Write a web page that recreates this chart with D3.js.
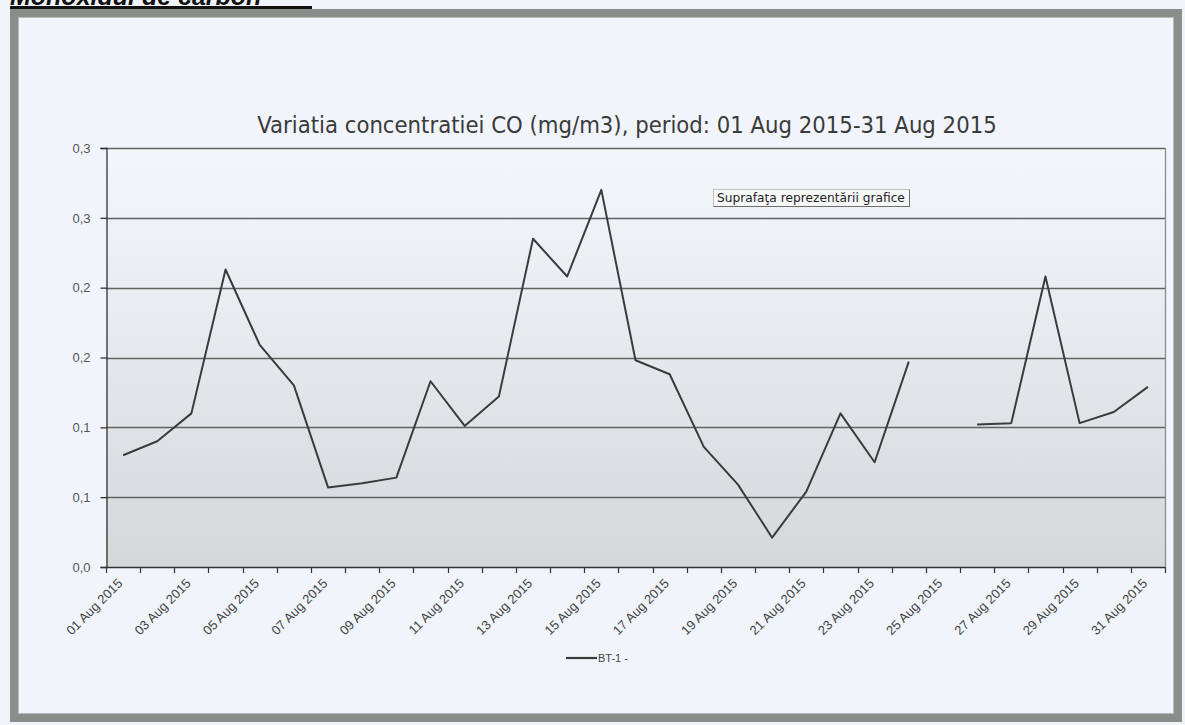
<!DOCTYPE html>
<html>
<head>
<meta charset="utf-8">
<script src="https://cdn.jsdelivr.net/npm/d3@7"></script>
<style>
  html, body { margin: 0; padding: 0; background: #f1f5fb; }
  svg { display: block; }
</style>
</head>
<body>
<svg id="chart" width="1185" height="725"></svg>
<script>
// ---------- data ----------
const dates = [
  "01 Aug 2015","02 Aug 2015","03 Aug 2015","04 Aug 2015","05 Aug 2015","06 Aug 2015",
  "07 Aug 2015","08 Aug 2015","09 Aug 2015","10 Aug 2015","11 Aug 2015","12 Aug 2015",
  "13 Aug 2015","14 Aug 2015","15 Aug 2015","16 Aug 2015","17 Aug 2015","18 Aug 2015",
  "19 Aug 2015","20 Aug 2015","21 Aug 2015","22 Aug 2015","23 Aug 2015","24 Aug 2015",
  "25 Aug 2015","26 Aug 2015","27 Aug 2015","28 Aug 2015","29 Aug 2015","30 Aug 2015",
  "31 Aug 2015"
];
const coValues = [
  0.080, 0.090, 0.110, 0.213, 0.159, 0.130, 0.057, 0.060, 0.064, 0.133,
  0.101, 0.122, 0.235, 0.208, 0.270, 0.148, 0.138, 0.086, 0.059, 0.021,
  0.054, 0.110, 0.075, 0.147, null, 0.102, 0.103, 0.208, 0.103, 0.111,
  0.129
];
const xLabelDates = [
  "01 Aug 2015","03 Aug 2015","05 Aug 2015","07 Aug 2015","09 Aug 2015","11 Aug 2015",
  "13 Aug 2015","15 Aug 2015","17 Aug 2015","19 Aug 2015","21 Aug 2015","23 Aug 2015",
  "25 Aug 2015","27 Aug 2015","29 Aug 2015","31 Aug 2015"
];
const yTicks = [0, 0.05, 0.10, 0.15, 0.20, 0.25, 0.30];
const yTickLabels = ["0,0","0,1","0,1","0,2","0,2","0,3","0,3"];
const seriesName = "BT-1 -";
const chartTitle = "Variatia concentratiei CO (mg/m3), period: 01 Aug 2015-31 Aug 2015";
const pageTitle = "Monoxidul de carbon";
const tooltipText = "Suprafaţa reprezentării grafice";

// ---------- layout ----------
const svg = d3.select("#chart");
const plot = { left: 106, right: 1165, top: 148, bottom: 567 };

const x = d3.scaleBand().domain(dates).range([plot.left, plot.right]).padding(0);
const cx = d => x(d) + x.bandwidth() / 2;
const y = d3.scaleLinear().domain([0, 0.3]).range([plot.bottom, plot.top]);

// defs: gradient for plot area
const defs = svg.append("defs");
const grad = defs.append("linearGradient").attr("id", "plotGrad")
  .attr("x1", 0).attr("y1", 0).attr("x2", 0).attr("y2", 1);
grad.append("stop").attr("offset", "0%").attr("stop-color", "#f3f6fa");
grad.append("stop").attr("offset", "40%").attr("stop-color", "#e8ebef");
grad.append("stop").attr("offset", "100%").attr("stop-color", "#d5d8d9");

// page title (cut at top)
const pt = svg.append("text")
  .attr("x", 10).attr("y", 5)
  .attr("font-family", "Liberation Sans, Arial, sans-serif")
  .attr("font-weight", "bold").attr("font-style", "italic")
  .attr("font-size", 25).attr("fill", "#111")
  .text(pageTitle);
svg.append("rect").attr("x", 10).attr("y", 6).attr("width", 302).attr("height", 3).attr("fill", "#111");

// outer frame
svg.append("rect")
  .attr("x", 14).attr("y", 13).attr("width", 1164).attr("height", 705)
  .attr("fill", "#f1f5fb").attr("stroke", "#8b8d8b").attr("stroke-width", 8);
svg.append("rect")
  .attr("x", 18.5).attr("y", 17.5).attr("width", 1155).attr("height", 696)
  .attr("fill", "none").attr("stroke", "#b9bcbb").attr("stroke-width", 1);

// plot area
svg.append("rect")
  .attr("x", plot.left).attr("y", plot.top)
  .attr("width", plot.right - plot.left).attr("height", plot.bottom - plot.top)
  .attr("fill", "url(#plotGrad)");

// gridlines
svg.append("g").selectAll("line")
  .data(yTicks.filter(t => t > 0))
  .join("line")
  .attr("x1", plot.left).attr("x2", plot.right)
  .attr("y1", d => Math.round(y(d)) + 0.5).attr("y2", d => Math.round(y(d)) + 0.5)
  .attr("stroke", "#5f6362").attr("stroke-width", 1.3);

// right border
svg.append("line")
  .attr("x1", plot.right + 0.5).attr("x2", plot.right + 0.5)
  .attr("y1", plot.top).attr("y2", plot.bottom)
  .attr("stroke", "#8a8d8c").attr("stroke-width", 1.3);

// y axis
const yAxis = d3.axisLeft(y).tickValues(yTicks)
  .tickFormat((d, i) => yTickLabels[i]).tickSize(6).tickPadding(10);
const gy = svg.append("g").attr("transform", `translate(${plot.left + 0.5},0)`).call(yAxis);
gy.select(".domain").attr("stroke", "#333").attr("stroke-width", 1.3);
gy.selectAll(".tick line").attr("stroke", "#333").attr("stroke-width", 1.3);
gy.selectAll(".tick text")
  .attr("font-family", "Liberation Sans, Arial, sans-serif")
  .attr("font-size", 13).attr("fill", "#555");

// x axis: boundary ticks
const boundaries = dates.map(d => x(d)).concat([plot.right]);
svg.append("line")
  .attr("x1", plot.left).attr("x2", plot.right)
  .attr("y1", plot.bottom + 0.5).attr("y2", plot.bottom + 0.5)
  .attr("stroke", "#333").attr("stroke-width", 1.3);
svg.append("g").selectAll("line").data(boundaries).join("line")
  .attr("x1", d => Math.round(d) + 0.5).attr("x2", d => Math.round(d) + 0.5)
  .attr("y1", plot.bottom).attr("y2", plot.bottom + 6)
  .attr("stroke", "#333").attr("stroke-width", 1.2);

// x labels
svg.append("g").selectAll("text").data(xLabelDates).join("text")
  .attr("transform", d => `translate(${cx(d) - 3},${plot.bottom + 14}) rotate(-45)`)
  .attr("text-anchor", "end")
  .attr("dy", "0.35em")
  .attr("font-family", "Liberation Sans, Arial, sans-serif")
  .attr("font-size", 13).attr("fill", "#444")
  .text(d => d);

// series line
const line = d3.line()
  .defined(d => d.v !== null)
  .x(d => cx(d.date))
  .y(d => y(d.v));
const series = dates.map((d, i) => ({ date: d, v: coValues[i] }));
svg.append("path").datum(series)
  .attr("d", line)
  .attr("fill", "none").attr("stroke", "#3a3c3c").attr("stroke-width", 2)
  .attr("stroke-linejoin", "round");

// chart title
const ct = svg.append("text")
  .attr("x", 627).attr("y", 133).attr("text-anchor", "middle")
  .attr("font-family", "DejaVu Sans Condensed, DejaVu Sans, sans-serif")
  .attr("font-size", 16).attr("fill", "#3a3a3a")
  .text(chartTitle);
// fit title width to ~740px
const w = ct.node().getComputedTextLength();
ct.attr("font-size", 16 * 740 / w);

// tooltip-like label
const tt = svg.append("g");
tt.append("rect").attr("x", 713.5).attr("y", 189.5).attr("width", 196).attr("height", 17)
  .attr("fill", "#f7f8fa").attr("stroke", "#c4c4c4");
tt.append("path").attr("d", "M909.5,189.5 V206.5 H713.5")
  .attr("fill", "none").attr("stroke", "#6d6d6d");
const ttText = tt.append("text").attr("x", 717).attr("y", 202)
  .attr("font-family", "DejaVu Sans, sans-serif").attr("font-size", 11).attr("fill", "#222")
  .text(tooltipText);
const tw = ttText.node().getComputedTextLength();
ttText.attr("font-size", 11 * 188 / tw);

// legend
svg.append("line").attr("x1", 566).attr("x2", 597).attr("y1", 658).attr("y2", 658)
  .attr("stroke", "#3a3c3c").attr("stroke-width", 2.2);
svg.append("text").attr("x", 598).attr("y", 662)
  .attr("font-family", "Liberation Sans, Arial, sans-serif")
  .attr("font-size", 11).attr("fill", "#444")
  .text(seriesName);
</script>
</body>
</html>
